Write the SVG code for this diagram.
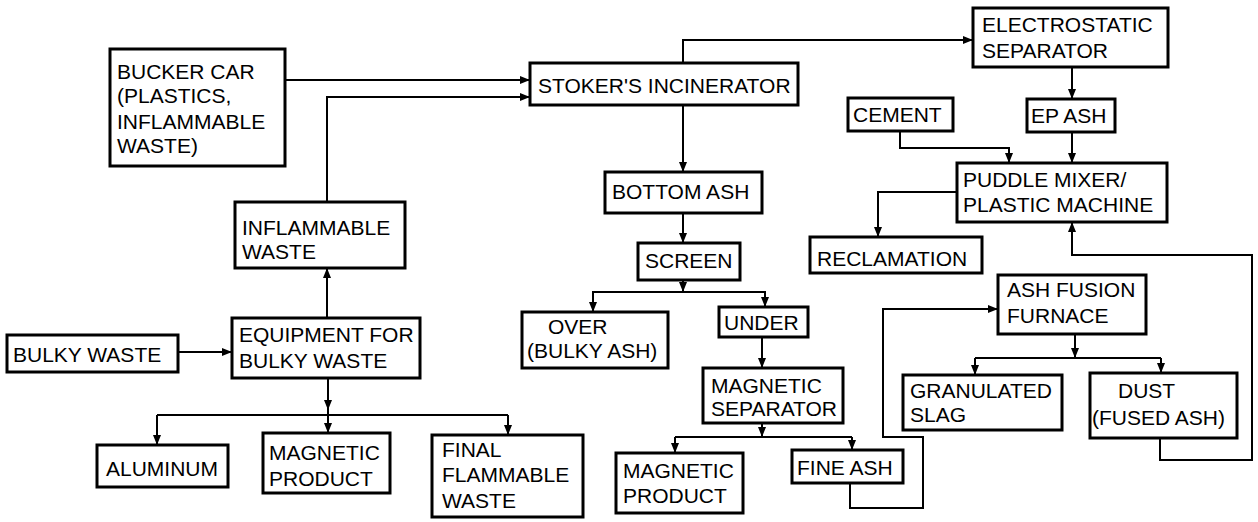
<svg xmlns="http://www.w3.org/2000/svg" width="1258" height="522" viewBox="0 0 1258 522">
<style>
.box{fill:#fff;stroke:#000;stroke-width:3}
.t{font-family:"Liberation Sans",Arial,sans-serif;font-size:21px;fill:#000}
.c{fill:none;stroke:#000;stroke-width:2}
</style>
<defs>
<marker id="ah" markerUnits="userSpaceOnUse" markerWidth="10" markerHeight="10" viewBox="0 0 10 10" refX="10" refY="5" orient="auto">
<path d="M0,1 L10,5 L0,9 Z" fill="#000"/>
</marker>
</defs>
<rect width="1258" height="522" fill="#fff"/>
<g id="connectors">
<path class="c" d="M285,80 H530" marker-end="url(#ah)"/>
<path class="c" d="M327,202 V97 H530" marker-end="url(#ah)"/>
<path class="c" d="M683,63 V40 H973" marker-end="url(#ah)"/>
<path class="c" d="M683,105 V172" marker-end="url(#ah)"/>
<path class="c" d="M683,213 V243" marker-end="url(#ah)"/>
<path class="c" d="M683,280 V292" marker-end="url(#ah)"/>
<path class="c" d="M593,312 V292 H765 V307"/>
<path class="c" d="M593,292 V312" marker-end="url(#ah)"/>
<path class="c" d="M765,292 V307" marker-end="url(#ah)"/>
<path class="c" d="M762,337 V368" marker-end="url(#ah)"/>
<path class="c" d="M762,423 V437" marker-end="url(#ah)"/>
<path class="c" d="M675,437 H852"/>
<path class="c" d="M675,437 V453" marker-end="url(#ah)"/>
<path class="c" d="M852,437 V450" marker-end="url(#ah)"/>
<path class="c" d="M850,483 V508 H923 V437 H883 V309 H998" marker-end="url(#ah)"/>
<path class="c" d="M1075,334 V358" marker-end="url(#ah)"/>
<path class="c" d="M975,358 H1161"/>
<path class="c" d="M975,358 V375" marker-end="url(#ah)"/>
<path class="c" d="M1161,358 V373" marker-end="url(#ah)"/>
<path class="c" d="M1160,438 V460 H1252 V255 H1072 V222" marker-end="url(#ah)"/>
<path class="c" d="M1072,67 V99" marker-end="url(#ah)"/>
<path class="c" d="M1072,132 V163" marker-end="url(#ah)"/>
<path class="c" d="M900,131 V148 H1009 V163" marker-end="url(#ah)"/>
<path class="c" d="M957,192 H878 V237" marker-end="url(#ah)"/>
<path class="c" d="M178,352 H232" marker-end="url(#ah)"/>
<path class="c" d="M327,318 V268" marker-end="url(#ah)"/>
<path class="c" d="M328,378 V410" marker-end="url(#ah)"/>
<path class="c" d="M157,415 H508"/>
<path class="c" d="M157,415 V445" marker-end="url(#ah)"/>
<path class="c" d="M328,410 V433" marker-end="url(#ah)"/>
<path class="c" d="M508,415 V435" marker-end="url(#ah)"/>
</g>
<g id="bucker-car"><rect class="box" x="110" y="49" width="175" height="117"/>
<text class="t" x="117" y="79">BUCKER CAR</text><text class="t" x="117" y="103">(PLASTICS,</text><text class="t" x="117" y="129">INFLAMMABLE</text><text class="t" x="117" y="153">WASTE)</text></g>
<g id="stoker"><rect class="box" x="530" y="63" width="268" height="42"/><text class="t" x="538" y="93">STOKER'S INCINERATOR</text></g>
<g id="electrostatic"><rect class="box" x="973" y="8" width="195" height="59"/><text class="t" x="982" y="32">ELECTROSTATIC</text><text class="t" x="982" y="58">SEPARATOR</text></g>
<g id="cement"><rect class="box" x="848" y="98" width="105" height="33"/><text class="t" x="853" y="122">CEMENT</text></g>
<g id="ep-ash"><rect class="box" x="1027" y="99" width="88" height="33"/><text class="t" x="1031" y="123">EP ASH</text></g>
<g id="puddle-mixer"><rect class="box" x="957" y="163" width="210" height="59"/><text class="t" x="963" y="187">PUDDLE MIXER/</text><text class="t" x="963" y="212">PLASTIC MACHINE</text></g>
<g id="reclamation"><rect class="box" x="810" y="237" width="172" height="36"/><text class="t" x="817" y="266">RECLAMATION</text></g>
<g id="bottom-ash"><rect class="box" x="605" y="172" width="157" height="41"/><text class="t" x="612" y="199">BOTTOM ASH</text></g>
<g id="screen"><rect class="box" x="638" y="243" width="102" height="37"/><text class="t" x="645" y="268">SCREEN</text></g>
<g id="over"><rect class="box" x="522" y="312" width="146" height="56"/><text class="t" x="548" y="334">OVER</text><text class="t" x="527" y="358">(BULKY ASH)</text></g>
<g id="under"><rect class="box" x="719" y="307" width="89" height="30"/><text class="t" x="724" y="330">UNDER</text></g>
<g id="magnetic-separator"><rect class="box" x="703" y="368" width="140" height="55"/><text class="t" x="711" y="393">MAGNETIC</text><text class="t" x="711" y="416">SEPARATOR</text></g>
<g id="magnetic-product-2"><rect class="box" x="616" y="453" width="127" height="60"/><text class="t" x="623" y="478">MAGNETIC</text><text class="t" x="623" y="503">PRODUCT</text></g>
<g id="fine-ash"><rect class="box" x="792" y="450" width="111" height="33"/><text class="t" x="797" y="475">FINE ASH</text></g>
<g id="ash-fusion"><rect class="box" x="998" y="275" width="148" height="59"/><text class="t" x="1007" y="297">ASH FUSION</text><text class="t" x="1007" y="323">FURNACE</text></g>
<g id="granulated-slag"><rect class="box" x="903" y="375" width="159" height="55"/><text class="t" x="910" y="398">GRANULATED</text><text class="t" x="910" y="422">SLAG</text></g>
<g id="dust"><rect class="box" x="1090" y="373" width="147" height="65"/><text class="t" x="1118" y="398">DUST</text><text class="t" x="1092" y="425">(FUSED ASH)</text></g>
<g id="inflammable-waste"><rect class="box" x="235" y="202" width="170" height="66"/><text class="t" x="242" y="235">INFLAMMABLE</text><text class="t" x="242" y="259">WASTE</text></g>
<g id="equipment"><rect class="box" x="232" y="318" width="188" height="60"/><text class="t" x="239" y="342">EQUIPMENT FOR</text><text class="t" x="239" y="368">BULKY WASTE</text></g>
<g id="bulky-waste"><rect class="box" x="7" y="335" width="171" height="37"/><text class="t" x="13" y="362">BULKY WASTE</text></g>
<g id="aluminum"><rect class="box" x="97" y="445" width="131" height="42"/><text class="t" x="106" y="476">ALUMINUM</text></g>
<g id="magnetic-product-1"><rect class="box" x="263" y="433" width="127" height="60"/><text class="t" x="269" y="460">MAGNETIC</text><text class="t" x="269" y="486">PRODUCT</text></g>
<g id="final-flammable"><rect class="box" x="432" y="435" width="151" height="82"/><text class="t" x="442" y="457">FINAL</text><text class="t" x="442" y="482">FLAMMABLE</text><text class="t" x="442" y="508">WASTE</text></g>
</svg>
